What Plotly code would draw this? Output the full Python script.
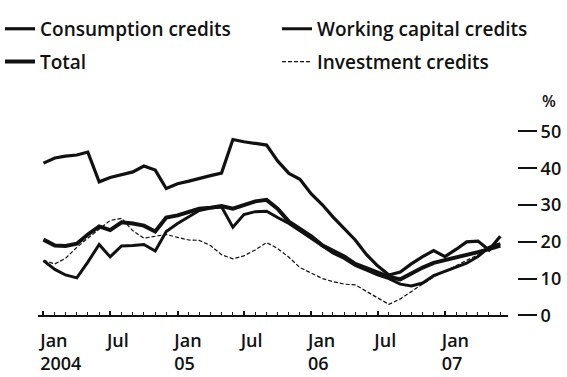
import pandas as pd
import plotly.graph_objects as go

# Monthly year-on-year growth of bank credit, %, Jan 2004 - Jun 2007
months = pd.date_range("2004-01-01", periods=42, freq="MS")

consumption = [41.4, 42.8, 43.3, 43.6, 44.4, 36.3, 37.5, 38.3, 39.0, 40.6,
               39.5, 34.5, 35.8, 36.5, 37.3, 38.0, 38.7, 47.8, 47.2, 46.8,
               46.3, 42.0, 38.6, 37.0, 33.0, 30.0, 26.8, 23.6, 20.5, 16.5,
               13.5, 11.0, 11.8, 14.0, 16.0, 17.6, 16.0, 18.0, 20.0, 20.2,
               17.8, 21.5]

total = [20.6, 19.0, 18.9, 19.5, 22.0, 24.2, 23.2, 25.3, 25.0, 24.4,
         22.8, 26.6, 27.2, 28.0, 29.0, 29.3, 29.7, 29.0, 30.0, 31.0,
         31.4, 29.0, 25.5, 23.5, 21.5, 19.0, 17.5, 16.0, 14.0, 12.8,
         11.5, 10.5, 9.8, 11.5, 13.0, 14.3, 15.0, 15.9, 16.5, 17.2,
         18.0, 19.0]

working_capital = [14.9, 12.5, 11.0, 10.2, 14.5, 19.3, 15.9, 18.9, 19.0, 19.3,
                   17.5, 22.8, 25.0, 26.8, 28.5, 29.2, 29.5, 24.0, 27.4, 28.2,
                   28.3, 26.6, 25.0, 23.0, 21.0, 18.8, 17.0, 15.5, 13.6, 12.3,
                   11.0, 10.0, 8.5, 8.0, 8.8, 10.8, 12.0, 13.2, 14.2, 16.0,
                   18.5, 19.5]

investment = [15.0, 14.0, 15.5, 18.5, 21.0, 23.5, 25.8, 26.4, 23.0, 21.0,
              21.5, 22.0, 21.2, 20.5, 20.4, 19.0, 16.5, 15.4, 16.2, 17.8,
              19.8, 18.2, 15.8, 13.0, 11.5, 10.0, 9.2, 8.5, 8.3, 6.5,
              4.8, 3.0, 4.5, 6.5, 8.5, 10.5, 12.0, 13.5, 15.0, 16.5,
              18.0, 19.0]

tick_dates = ["2004-01-01", "2004-07-01", "2005-01-01", "2005-07-01",
              "2006-01-01", "2006-07-01", "2007-01-01"]
tick_text = ["Jan<br>2004", "Jul", "Jan<br>05", "Jul", "Jan<br>06", "Jul", "Jan<br>07"]
y_ticks = [0, 10, 20, 30, 40, 50]

W, H = 567, 377
INK = "#111111"
FONT = "Open Sans, Liberation Sans, Arial, sans-serif"
TXT = dict(family=FONT, size=18, color=INK, weight=600)
LEG_TXT = dict(family=FONT, size=19, color=INK, weight=600)

fig = go.Figure()

fig.add_trace(go.Scatter(x=months, y=consumption, name="Consumption credits",
                         mode="lines", line=dict(color=INK, width=3.2),
                         legend="legend"))
fig.add_trace(go.Scatter(x=months, y=working_capital, name="Working capital credits",
                         mode="lines", line=dict(color=INK, width=3),
                         legend="legend"))
fig.add_trace(go.Scatter(x=months, y=total, name="Total",
                         mode="lines", line=dict(color=INK, width=4),
                         legend="legend2"))
fig.add_trace(go.Scatter(x=months, y=investment, name="Investment credits",
                         mode="lines", line=dict(color=INK, width=1.2, dash="4px,2px"),
                         legend="legend2"))

legend_common = dict(orientation="h", x=0.0, xanchor="left", yanchor="middle",
                     bgcolor="rgba(0,0,0,0)", entrywidth=232, entrywidthmode="pixels",
                     font=LEG_TXT, traceorder="normal")

fig.update_layout(
    width=W, height=H,
    margin=dict(l=0, r=0, t=0, b=0),
    paper_bgcolor="white", plot_bgcolor="white",
    font=TXT,
    showlegend=True,
    legend=dict(y=1 - 17 / H, **legend_common),
    legend2=dict(y=1 - 52 / H, **legend_common),
    xaxis=dict(
        domain=[38 / W, 508 / W],
        type="date",
        range=["2003-12-17", "2007-06-22"],
        tickvals=tick_dates, ticktext=tick_text,
        ticks="inside", ticklen=4, tickwidth=1.5, tickcolor=INK,
        ticklabelposition="outside right",
        ticklabelshift=-5, ticklabelstandoff=8,
        minor=dict(dtick="M1", ticks="inside", ticklen=3, tickwidth=1, tickcolor=INK),
        showline=True, linewidth=2, linecolor=INK,
        showgrid=False, zeroline=False,
        tickfont=TXT,
    ),
    yaxis=dict(
        domain=[(H - 323) / H, (H - 126.5) / H],
        range=[0, 50],
        side="right", anchor="free", position=517 / W,
        tickvals=y_ticks,
        ticks="outside", ticklen=19, tickwidth=2, tickcolor=INK,
        showline=False, showgrid=False, zeroline=False,
        tickfont=TXT,
    ),
    yaxis2=dict(
        domain=[(H - 323) / H, (H - 126.5) / H],
        range=[0, 50], overlaying="y",
        side="left", anchor="free", position=32 / W,
        tickvals=y_ticks,
        ticks="outside", ticklen=20, tickwidth=2, tickcolor=INK,
        showticklabels=False,
        showline=False, showgrid=False, zeroline=False,
    ),
    annotations=[dict(text="%", xref="paper", yref="paper",
                      x=549 / W, y=1 - 94 / H, xanchor="center", yanchor="middle",
                      showarrow=False, font=dict(family=FONT, size=16, color=INK, weight=600))],
)

fig.write_html("out.html")
